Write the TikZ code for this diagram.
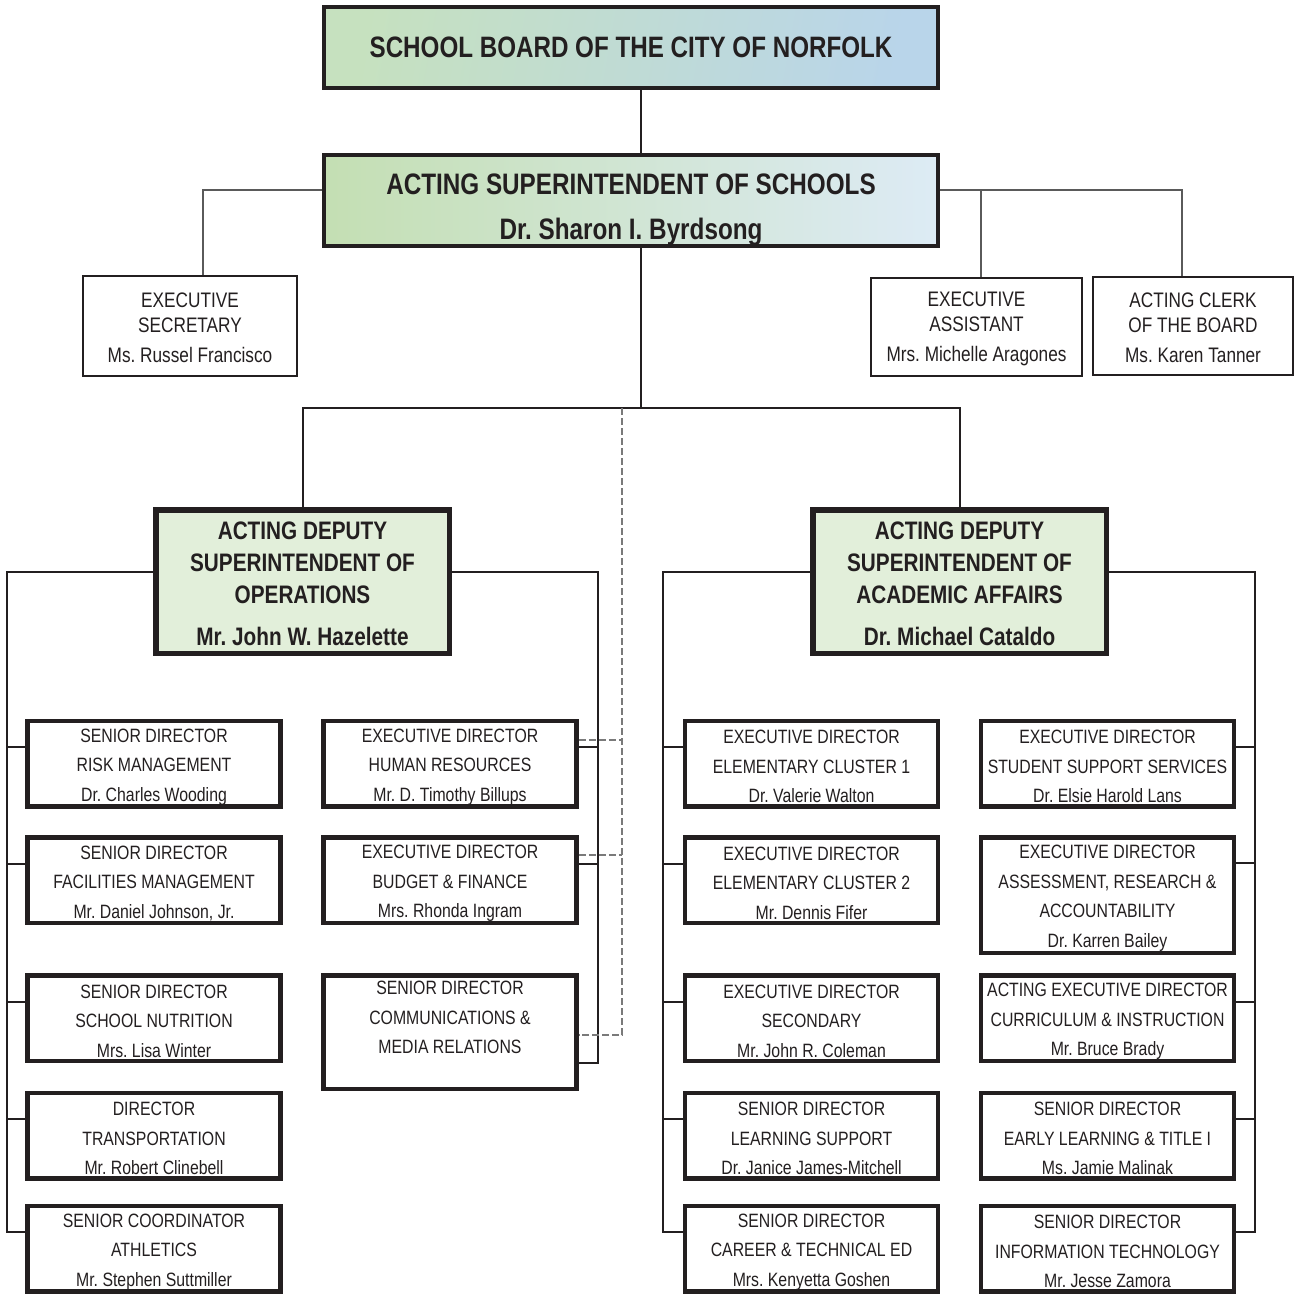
\documentclass[tikz,border=0pt]{standalone}
\usepackage{fontspec}
\setmainfont{Liberation Sans}[FakeStretch=0.82]
\usetikzlibrary{calc}
\definecolor{ink}{HTML}{231F20}
\definecolor{lnk}{HTML}{5A5A5A}
\definecolor{dsh}{HTML}{7A7A7A}
\definecolor{gA}{HTML}{C6E1BF}
\definecolor{bA}{HTML}{B9D5EA}
\definecolor{gB}{HTML}{C4DFB3}
\definecolor{mB}{HTML}{D2E6D4}
\definecolor{bB}{HTML}{DDEBF5}
\definecolor{opsfill}{HTML}{E2EFDA}
\newcommand{\myfs}[2]{\fontsize{#1}{#2}\selectfont}
\newcommand{\upU}{\rule{0pt}{20pt}}
\newcommand{\upS}{\rule{0pt}{19pt}}
\newcommand{\upD}{\rule{0pt}{23pt}}
\frenchspacing
\begin{document}
\begin{tikzpicture}[x=1pt,y=-1pt,
  every node/.style={inner sep=0pt, text=ink, align=center},
  headbox/.style={draw=ink, line width=4pt, minimum width=614pt, minimum height=#1},
  staffbox/.style={draw=ink, line width=2pt, font=\myfs{21}{25}\frenchspacing},
  depbox/.style={draw=ink, line width=5.5pt, fill=opsfill, minimum width=293.5pt, minimum height=143.5pt, font=\bfseries\myfs{25.3}{32}\frenchspacing},
  unitbox/.style={draw=ink, line width=4.5pt, minimum width=253pt, minimum height=#1, font=\myfs{19.3}{29.5}\frenchspacing},
  unitbox/.default=85.5pt,
  conn/.style={draw=ink, line width=2pt},
  thinconn/.style={draw=lnk, line width=1.2pt},
  dashlink/.style={draw=dsh, line width=1.3pt, dash pattern=on 7pt off 3pt}
]
\useasboundingbox (0,0) rectangle (1296,1297);
\fill[white] (0,0) rectangle (1296,1297);

% top level
\node[headbox=81pt, left color=gA, right color=bA, shading angle=80, font=\bfseries\myfs{29.5}{35}] (board) at (631,47.5) {SCHOOL BOARD OF THE CITY OF NORFOLK};
\node[headbox=86pt, left color=gB, middle color=mB, right color=bB, font=\bfseries\myfs{29.6}{45.5}\frenchspacing] (supt) at (631,200.5) {\rule{0pt}{39.7pt}ACTING SUPERINTENDENT OF SCHOOLS\\Dr. Sharon I. Byrdsong};

% staff
\node[staffbox, minimum width=214pt, minimum height=100pt] (sec) at (190,326) {\upS EXECUTIVE\\SECRETARY\\[5pt]Ms. Russel Francisco};
\node[staffbox, minimum width=211pt, minimum height=98pt] (asst) at (976.5,327) {\upS EXECUTIVE\\ASSISTANT\\[5pt]Mrs. Michelle Aragones};
\node[staffbox, minimum width=200pt, minimum height=98pt] (clerk) at (1193,326) {\upS ACTING CLERK\\OF THE BOARD\\[5pt]Ms. Karen Tanner};

% deputies
\node[depbox] (ops) at (302.5,581.5) {\upD ACTING DEPUTY\\SUPERINTENDENT OF\\OPERATIONS\\[10pt]Mr. John W. Hazelette};
\node[depbox] (acad) at (959.5,581.5) {\upD ACTING DEPUTY\\SUPERINTENDENT OF\\ACADEMIC AFFAIRS\\[10pt]Dr. Michael Cataldo};

% column 1
\node[unitbox] (risk) at (154,763.5) {\upU SENIOR DIRECTOR\\RISK MANAGEMENT\\Dr. Charles Wooding};
\node[unitbox] (fac) at (154,880) {\upU SENIOR DIRECTOR\\FACILITIES MANAGEMENT\\Mr. Daniel Johnson, Jr.};
\node[unitbox] (nutr) at (154,1018) {\upU SENIOR DIRECTOR\\SCHOOL NUTRITION\\Mrs. Lisa Winter};
\node[unitbox] (trans) at (154,1135.5) {\upU DIRECTOR\\TRANSPORTATION\\Mr. Robert Clinebell};
\node[unitbox] (ath) at (154,1248.5) {\upU SENIOR COORDINATOR\\ATHLETICS\\Mr. Stephen Suttmiller};

% column 2
\node[unitbox] (hr) at (450,763.5) {\upU EXECUTIVE DIRECTOR\\HUMAN RESOURCES\\Mr. D. Timothy Billups};
\node[unitbox] (bud) at (450,880) {\upU EXECUTIVE DIRECTOR\\BUDGET \& FINANCE\\Mrs. Rhonda Ingram};
\node[unitbox=113.5pt] (comm) at (450,1032) {SENIOR DIRECTOR\\COMMUNICATIONS \&\\MEDIA RELATIONS\\\mbox{}};

% column 3
\node[unitbox] (ec1) at (811.5,763.5) {\upU EXECUTIVE DIRECTOR\\ELEMENTARY CLUSTER 1\\Dr. Valerie Walton};
\node[unitbox] (ec2) at (811.5,880) {\upU EXECUTIVE DIRECTOR\\ELEMENTARY CLUSTER 2\\Mr. Dennis Fifer};
\node[unitbox] (secd) at (811.5,1018) {\upU EXECUTIVE DIRECTOR\\SECONDARY\\Mr. John R. Coleman};
\node[unitbox] (ls) at (811.5,1135.5) {\upU SENIOR DIRECTOR\\LEARNING SUPPORT\\Dr. Janice James-Mitchell};
\node[unitbox] (cte) at (811.5,1248.5) {\upU SENIOR DIRECTOR\\CAREER \& TECHNICAL ED\\Mrs. Kenyetta Goshen};

% column 4
\node[unitbox] (sss) at (1107.5,763.5) {\upU EXECUTIVE DIRECTOR\\STUDENT SUPPORT SERVICES\\Dr. Elsie Harold Lans};
\node[unitbox=115.5pt] (ara) at (1107.5,895) {\upU EXECUTIVE DIRECTOR\\ASSESSMENT, RESEARCH \&\\ACCOUNTABILITY\\Dr. Karren Bailey};
\node[unitbox] (ci) at (1107.5,1018) {\upU ACTING EXECUTIVE DIRECTOR\\CURRICULUM \& INSTRUCTION\\Mr. Bruce Brady};
\node[unitbox] (early) at (1107.5,1135.5) {\upU SENIOR DIRECTOR\\EARLY LEARNING \& TITLE I\\Ms. Jamie Malinak};
\node[unitbox] (it) at (1107.5,1248.5) {\upU SENIOR DIRECTOR\\INFORMATION TECHNOLOGY\\Mr. Jesse Zamora};

% connectors top
\draw[conn] ($(board.south)+(10,0)$) -- ($(supt.north)+(10,0)$);
\draw[thinconn] ($(supt.west)+(0,-10.5)$) -| ($(sec.north)+(13,0)$);
\draw[thinconn] ($(supt.east)+(0,-10.5)$) -| ($(clerk.north)+(-11,0)$);
\coordinate (abus) at (981,190);
\draw[thinconn] (abus) -- ($(asst.north)+(4.5,0)$);

\coordinate (busL) at (302.5,408);
\coordinate (busM) at (641,408);
\draw[conn] ($(supt.south)+(10,0)$) -- (busM);
\draw[conn] (ops.north) -- (busL) -| (acad.north);

% operations buses
\coordinate (oL) at (7,572);
\coordinate (oLb) at (7,1232);
\draw[conn] ($(ops.west)+(0,-9.5)$) -- (oL) -- (oLb) -- ($(ath.west)+(0,-16.5)$);
\foreach \n in {risk,fac,nutr,trans}
  \draw[conn] ($(\n.west)+(0,-16.5)$) -- ($(oL |- \n.west)+(0,-16.5)$);
\coordinate (oR) at (598,572);
\coordinate (oRb) at (598,1063);
\draw[conn] ($(ops.east)+(0,-9.5)$) -- (oR) -- (oRb) -- ($(comm.east)+(0,31)$);
\foreach \n in {hr,bud}
  \draw[conn] ($(\n.east)+(0,-16.5)$) -- ($(oR |- \n.east)+(0,-16.5)$);

% academic buses
\coordinate (aL) at (663,572);
\coordinate (aLb) at (663,1232);
\draw[conn] ($(acad.west)+(0,-9.5)$) -- (aL) -- (aLb) -- ($(cte.west)+(0,-16.5)$);
\foreach \n in {ec1,ec2,secd,ls}
  \draw[conn] ($(\n.west)+(0,-16.5)$) -- ($(aL |- \n.west)+(0,-16.5)$);
\coordinate (aR) at (1255,572);
\coordinate (aRb) at (1255,1232);
\draw[conn] ($(acad.east)+(0,-9.5)$) -- (aR) -- (aRb) -- ($(it.east)+(0,-16.5)$);
\foreach \n in {sss,ci,early}
  \draw[conn] ($(\n.east)+(0,-16.5)$) -- ($(aR |- \n.east)+(0,-16.5)$);
\draw[conn] ($(ara.east)+(0,-32)$) -- ($(aR |- ara.east)+(0,-32)$);

% dashed link
\coordinate (dT) at (622,408);
\coordinate (dB) at (622,1035);
\draw[dashlink] (dT) -- (dB) -- ($(comm.east)+(0,3)$);
\draw[dashlink] ($(hr.east)+(0,-23.5)$) -- ($(dT |- hr.east)+(0,-23.5)$);
\draw[dashlink] ($(bud.east)+(0,-25)$) -- ($(dT |- bud.east)+(0,-25)$);
\end{tikzpicture}
\end{document}
